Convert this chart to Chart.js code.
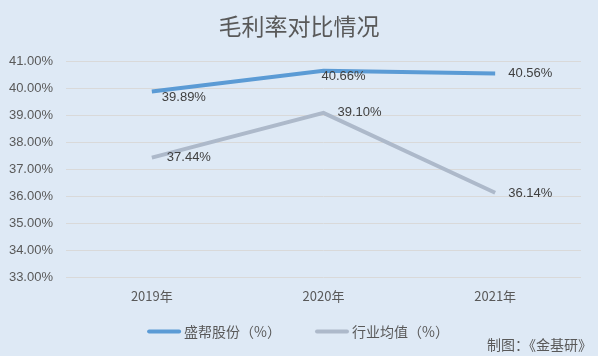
<!DOCTYPE html>
<html>
<head>
<meta charset="utf-8">
<script src="https://cdn.jsdelivr.net/npm/chart.js@4"></script>
<style>
  html, body { margin: 0; padding: 0; background: #dee9f5; }
  #wrap { width: 598px; height: 356px; }
</style>
</head>
<body>
<div id="wrap"><canvas id="chart"></canvas></div>
<script>
const years = ['2019年', '2020年', '2021年'];
const shengbang = [39.89, 40.66, 40.56];
const industryAvg = [37.44, 39.10, 36.14];
const yTicks = [33, 34, 35, 36, 37, 38, 39, 40, 41];

const FONT = '"Liberation Sans", "Noto Sans CJK SC", sans-serif';
const CJK = '"Noto Sans CJK SC", "Liberation Sans", sans-serif';

// label offsets (dx, dy) from each point, per series
const labelOffsets = [
    [[10, 6], [-2, 6], [13, 0]],
    [[15, 0], [14, 0], [13, 1]]
];

const valueLabels = {
    id: 'valueLabels',
    afterDatasetsDraw(chart) {
        const ctx = chart.ctx;
        ctx.save();
        ctx.font = '13px ' + FONT;
        ctx.fillStyle = '#404040';
        ctx.textAlign = 'left';
        ctx.textBaseline = 'middle';
        chart.data.datasets.forEach((ds, i) => {
            chart.getDatasetMeta(i).data.forEach((pt, j) => {
                const off = labelOffsets[i][j];
                ctx.fillText(ds.data[j].toFixed(2) + '%', pt.x + off[0], pt.y + off[1]);
            });
        });
        ctx.restore();
    }
};

// legend + source note, drawn under the axis
const bottomText = {
    id: 'bottomText',
    afterDraw(chart) {
        const ctx = chart.ctx;
        ctx.save();
        ctx.font = '14px ' + CJK;
        ctx.textBaseline = 'middle';
        const sets = chart.data.datasets;
        const lineW = 34, gap = 3, itemGap = 34, y = 331.5;
        const widths = sets.map(ds => ctx.measureText(ds.label).width);
        let total = itemGap * (sets.length - 1);
        widths.forEach(w => { total += lineW + gap + w; });
        let x = 298 - total / 2;
        sets.forEach((ds, i) => {
            ctx.strokeStyle = ds.borderColor;
            ctx.lineWidth = 4;
            ctx.lineCap = 'round';
            ctx.beginPath();
            ctx.moveTo(x + 2, y);
            ctx.lineTo(x + lineW - 2, y);
            ctx.stroke();
            ctx.fillStyle = '#595959';
            ctx.textAlign = 'left';
            ctx.fillText(ds.label, x + lineW + gap, y);
            x += lineW + gap + widths[i] + itemGap;
        });
        ctx.textAlign = 'right';
        ctx.font = '14px ' + CJK;
        ctx.fillText('制图：《金基研》', 592, 345);
        ctx.restore();
    }
};

new Chart(document.getElementById('chart'), {
    type: 'line',
    data: {
        labels: years,
        datasets: [
            {
                label: '盛帮股份（%）',
                data: shengbang,
                borderColor: '#5b9bd5',
                backgroundColor: '#5b9bd5',
                borderWidth: 4,
                pointRadius: 0,
                tension: 0
            },
            {
                label: '行业均值（%）',
                data: industryAvg,
                borderColor: '#adb9ca',
                backgroundColor: '#adb9ca',
                borderWidth: 4,
                pointRadius: 0,
                tension: 0
            }
        ]
    },
    options: {
        responsive: true,
        maintainAspectRatio: false,
        animation: false,
        layout: { padding: { left: 0, right: 0, top: 0, bottom: 49 } },
        plugins: {
            title: {
                display: true,
                text: '毛利率对比情况',
                color: '#595959',
                font: { family: CJK, size: 23, weight: 'normal' },
                padding: { top: 12, bottom: 22 }
            },
            legend: { display: false },
            tooltip: { enabled: false }
        },
        scales: {
            x: {
                offset: true,
                grid: { display: false },
                border: { display: false },
                ticks: { color: '#595959', font: { family: CJK, size: 13 }, padding: 3 }
            },
            y: {
                min: 33,
                max: 41,
                afterBuildTicks(scale) {
                    scale.ticks = yTicks.map(v => ({ value: v }));
                },
                afterFit(scale) { scale.width = 66; },
                grid: { color: '#d9d9d9', drawTicks: false },
                border: { display: false },
                ticks: {
                    color: '#595959',
                    font: { family: FONT, size: 13 },
                    padding: 13,
                    callback: v => v.toFixed(2) + '%'
                }
            },
            // empty right margin so the title centres on the whole canvas
            yRight: {
                position: 'right',
                grid: { display: false },
                border: { display: false },
                ticks: { display: false },
                afterFit(scale) { scale.width = 17; }
            }
        }
    },
    plugins: [valueLabels, bottomText]
});
</script>
</body>
</html>
